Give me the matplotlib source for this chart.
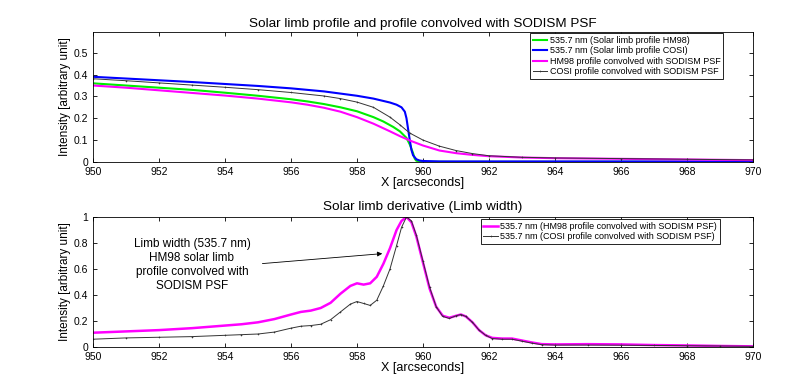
import matplotlib
matplotlib.use('Agg')
from matplotlib import pyplot

# top panel: limb profiles
hm98_x = [950, 951, 952, 953, 954, 955, 956, 956.5, 957, 957.5, 958, 958.5, 958.8, 959.1,
          959.3, 959.5, 959.6, 959.7, 959.75, 959.8, 960, 961, 962, 964, 966, 968, 970]
hm98_y = [0.360, 0.350, 0.340, 0.330, 0.317, 0.303, 0.287, 0.277, 0.265, 0.250, 0.232, 0.205,
          0.185, 0.160, 0.140, 0.110, 0.080, 0.040, 0.015, 0.005, 0.001, 0, 0, 0, 0, 0, 0]

cosi_x = [950, 951, 952, 953, 954, 955, 956, 957, 958, 958.5, 959, 959.2, 959.35, 959.45,
          959.5, 959.55, 959.6, 959.65, 959.7, 959.8, 959.9, 960, 960.5, 961, 962, 964, 966,
          968, 970]
cosi_y = [0.390, 0.382, 0.374, 0.366, 0.357, 0.348, 0.337, 0.323, 0.303, 0.290, 0.272, 0.262,
          0.250, 0.230, 0.200, 0.150, 0.100, 0.055, 0.030, 0.012, 0.006, 0.004, 0.002, 0.002,
          0.002, 0.002, 0.002, 0.002, 0.002]

hm98c_x = [950, 951, 952, 953, 954, 955, 956, 956.5, 957, 957.5, 958, 958.5, 959, 959.3,
           959.6, 960, 960.5, 961, 961.5, 962, 963, 964, 966, 968, 970]
hm98c_y = [0.350, 0.340, 0.328, 0.316, 0.304, 0.290, 0.273, 0.262, 0.248, 0.230, 0.205, 0.175,
           0.140, 0.118, 0.098, 0.075, 0.052, 0.040, 0.032, 0.026, 0.020, 0.017, 0.014, 0.011,
           0.008]

cosic_x = [950, 951, 952, 953, 954, 955, 956, 957, 957.5, 958, 958.5, 959, 959.3, 959.6, 960,
           960.5, 961, 961.5, 962, 963, 964, 966, 968, 970]
cosic_y = [0.381, 0.372, 0.362, 0.352, 0.342, 0.331, 0.318, 0.302, 0.290, 0.274, 0.250, 0.205,
           0.170, 0.132, 0.100, 0.072, 0.052, 0.038, 0.028, 0.021, 0.018, 0.015, 0.012, 0.009]

# bottom panel: limb derivative
der_x = [950, 951, 952, 953, 954, 954.5, 955, 955.5, 956, 956.3, 956.6, 956.9, 957.2, 957.5,
         957.8, 958.0, 958.2, 958.4, 958.6, 958.8, 959.0, 959.2, 959.35, 959.5, 959.65, 959.8,
         960.0, 960.2, 960.4, 960.6, 960.8, 961.0, 961.15, 961.3, 961.5, 961.7, 961.9, 962.1,
         962.4, 962.7, 963.0, 963.3, 963.6, 964, 965, 966, 967, 968, 969, 970]
der_hm98 = [0.11, 0.12, 0.13, 0.145, 0.165, 0.175, 0.19, 0.215, 0.25, 0.27, 0.28, 0.30, 0.34,
            0.41, 0.47, 0.49, 0.48, 0.49, 0.54, 0.64, 0.76, 0.90, 0.97, 1.0, 0.96, 0.85, 0.65,
            0.45, 0.31, 0.24, 0.225, 0.24, 0.25, 0.235, 0.19, 0.13, 0.09, 0.07, 0.065, 0.065,
            0.05, 0.035, 0.022, 0.02, 0.022, 0.02, 0.015, 0.012, 0.008, 0.005]
der_cosi = [0.06, 0.07, 0.075, 0.08, 0.09, 0.095, 0.10, 0.115, 0.145, 0.16, 0.165, 0.175, 0.21,
            0.27, 0.33, 0.35, 0.335, 0.32, 0.36, 0.47, 0.60, 0.78, 0.92, 1.0, 0.97, 0.86, 0.66,
            0.46, 0.31, 0.235, 0.22, 0.24, 0.25, 0.235, 0.19, 0.13, 0.09, 0.065, 0.06, 0.06,
            0.045, 0.03, 0.018, 0.015, 0.015, 0.014, 0.012, 0.01, 0.008, 0.005]

x_ticks = list(range(950, 971, 2))

pyplot.rcParams['font.family'] = ['Liberation Sans', 'DejaVu Sans']

figure = pyplot.figure(figsize=(7.97, 3.91), dpi=100)


def style_axis(ax):
    ax.set_xlim(950, 970)
    ax.set_xticks(x_ticks)
    ax.tick_params(direction='in', top=True, right=True, labelsize=7.5, length=3, width=0.6)
    for spine in ax.spines.values():
        spine.set_linewidth(0.6)
    ax.set_xlabel('X [arcseconds]', fontsize=9, labelpad=0)
    ax.set_ylabel('Intensity [arbitrary unit]', fontsize=8.5, labelpad=2)


def style_legend(ax, anchor):
    legend = ax.legend(loc='upper right', bbox_to_anchor=anchor, fontsize=6.5,
                       handlelength=1.6, handletextpad=0.3, borderpad=0.3, labelspacing=0.15,
                       fancybox=False, framealpha=1, edgecolor='black', borderaxespad=0)
    legend.get_frame().set_linewidth(0.6)


ax = figure.add_axes([0.1167, 0.586, 0.828, 0.332])
ax.plot(hm98_x, hm98_y, color='#00ee00', lw=1.5, label='535.7 nm (Solar limb profile HM98)')
ax.plot(cosi_x, cosi_y, color='#0000ff', lw=1.5, label='535.7 nm (Solar limb profile COSI)')
ax.plot(hm98c_x, hm98c_y, color='#ff00ff', lw=1.5, label='HM98 profile convolved with SODISM PSF')
ax.plot(cosic_x, cosic_y, color='#333333', lw=0.7, marker='+', markersize=2, markeredgewidth=0.4,
        label='COSI profile convolved with SODISM PSF')
style_axis(ax)
ax.set_ylim(0, 0.595)
ax.set_yticks([0, 0.1, 0.2, 0.3, 0.4, 0.5])
ax.set_yticklabels(['0', '0.1', '0.2', '0.3', '0.4', '0.5'])
ax.set_title('Solar limb profile and profile convolved with SODISM PSF', fontsize=9.7, pad=4)
style_legend(ax, (0.955, 0.99))

ax = figure.add_axes([0.1167, 0.1125, 0.828, 0.3325])
ax.plot(der_x, der_hm98, color='#ff00ff', lw=1.8,
        label='535.7 nm (HM98 profile convolved with SODISM PSF)')
ax.plot(der_x, der_cosi, color='#333333', lw=0.7, marker='+', markersize=2, markeredgewidth=0.4,
        label='535.7 nm (COSI profile convolved with SODISM PSF)')
style_axis(ax)
ax.set_ylim(0, 1)
ax.set_yticks([0, 0.2, 0.4, 0.6, 0.8, 1])
ax.set_yticklabels(['0', '0.2', '0.4', '0.6', '0.8', '1'])
ax.set_title('Solar limb derivative (Limb width)', fontsize=9.7, pad=5)
style_legend(ax, (0.95, 0.985))
ax.annotate('', xy=(958.85, 0.72), xytext=(955.05, 0.64),
            arrowprops=dict(arrowstyle='-|>', color='black', lw=0.6, mutation_scale=7))
ax.text(953.0, 0.63, 'Limb width (535.7 nm)\nHM98 solar limb\nprofile convolved with\nSODISM PSF',
        ha='center', va='center', fontsize=8.5, linespacing=1.2)

figure.savefig('out.png', dpi=100)
